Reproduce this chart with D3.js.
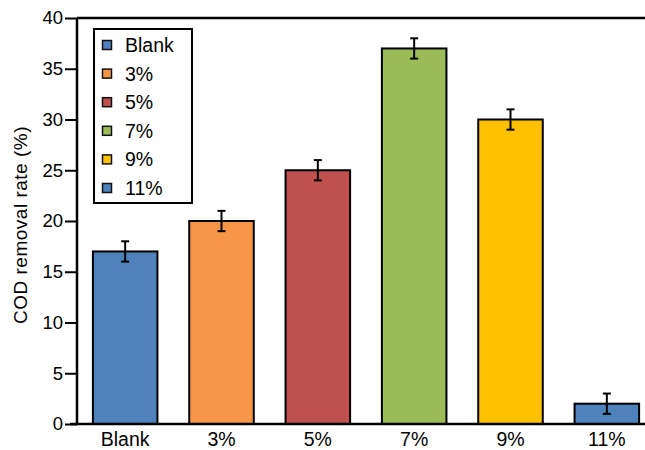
<!DOCTYPE html>
<html>
<head>
<meta charset="utf-8">
<script src="https://cdn.jsdelivr.net/npm/d3@7"></script>
<style>
  html, body { margin: 0; padding: 0; background: #fff; }
  svg { display: block; font-family: "Liberation Sans", Arial, Helvetica, sans-serif; }
</style>
</head>
<body>
<svg id="chart" width="645" height="450"></svg>
<script>
// Chart data
const categories = ["Blank", "3%", "5%", "7%", "9%", "11%"];
const values = [17, 20, 25, 37, 30, 2];
const errors = [1, 1, 1, 1, 1, 1];
const colors = ["#4F81BD", "#F79646", "#C0504D", "#9BBB59", "#FFC000", "#4F81BD"];
const yTicks = [0, 5, 10, 15, 20, 25, 30, 35, 40];
const yTitle = "COD removal rate (%)";

const svg = d3.select("#chart");
const margin = { left: 77, top: 18, right: -10, bottom: 26 };
const W = 645, H = 450;
const FONT = "Liberation Sans, Arial, sans-serif";

const x = d3.scaleBand()
  .domain(categories)
  .range([margin.left, W - margin.right])
  .paddingInner(0.33)
  .paddingOuter(0.165);

const y = d3.scaleLinear()
  .domain([0, 40])
  .range([H - margin.bottom, margin.top]);

const data = categories.map((c, i) => ({ c, v: values[i], e: errors[i], color: colors[i] }));

// Bars
svg.append("g").selectAll("rect").data(data).join("rect")
  .attr("x", d => x(d.c))
  .attr("y", d => y(d.v))
  .attr("width", x.bandwidth())
  .attr("height", d => y(0) - y(d.v))
  .attr("fill", d => d.color)
  .attr("stroke", "#000")
  .attr("stroke-width", 2);

// Error bars
const eg = svg.append("g").attr("stroke", "#000").attr("stroke-width", 2);
data.forEach(d => {
  const cx = x(d.c) + x.bandwidth() / 2;
  eg.append("line").attr("x1", cx).attr("x2", cx).attr("y1", y(d.v - d.e)).attr("y2", y(d.v + d.e));
  eg.append("line").attr("x1", cx - 4).attr("x2", cx + 4).attr("y1", y(d.v + d.e)).attr("y2", y(d.v + d.e));
  eg.append("line").attr("x1", cx - 4).attr("x2", cx + 4).attr("y1", y(d.v - d.e)).attr("y2", y(d.v - d.e));
});

// Y axis
const yAxis = svg.append("g")
  .attr("transform", `translate(${margin.left},0)`)
  .call(d3.axisLeft(y).tickValues(yTicks).tickSize(12).tickPadding(2));
yAxis.select(".domain").attr("stroke-width", 2.5).attr("d", `M0,${y(0)}V${y(40)}`);
yAxis.selectAll(".tick line").attr("stroke-width", 2);
yAxis.selectAll(".tick text").attr("font-size", 18.5).attr("fill", "#000")
  .attr("font-family", FONT);

// X axis
const xAxis = svg.append("g")
  .attr("transform", `translate(0,${y(0)})`)
  .call(d3.axisBottom(x).tickSize(0).tickPadding(8));
xAxis.select(".domain").attr("stroke-width", 2.5).attr("d", `M${margin.left - 7},0H${W}`);
xAxis.selectAll(".tick text").attr("font-size", 19.5).attr("fill", "#000")
  .attr("font-family", FONT);

// Top frame line
svg.append("line")
  .attr("x1", margin.left).attr("x2", W)
  .attr("y1", y(40)).attr("y2", y(40))
  .attr("stroke", "#000").attr("stroke-width", 2.5);

// Y axis title
svg.append("text")
  .attr("transform", `translate(22,${(y(0) + y(40)) / 2 + 4}) rotate(-90)`)
  .attr("text-anchor", "middle")
  .attr("dominant-baseline", "middle")
  .attr("font-size", 19)
  .attr("letter-spacing", 0.5)
  .text(yTitle);

// Legend
const lg = svg.append("g").attr("transform", "translate(94,29)");
lg.append("rect").attr("width", 98).attr("height", 174)
  .attr("fill", "#fff").attr("stroke", "#000").attr("stroke-width", 2);
data.forEach((d, i) => {
  const cy = 16 + i * 28.6;
  lg.append("rect").attr("x", 8.5).attr("y", cy - 4.5).attr("width", 9).attr("height", 9)
    .attr("fill", d.color).attr("stroke", "#111").attr("stroke-width", 1.5);
  lg.append("text").attr("x", 31).attr("y", cy).attr("dominant-baseline", "central")
    .attr("font-size", 19.5).text(d.c);
});
</script>
</body>
</html>
